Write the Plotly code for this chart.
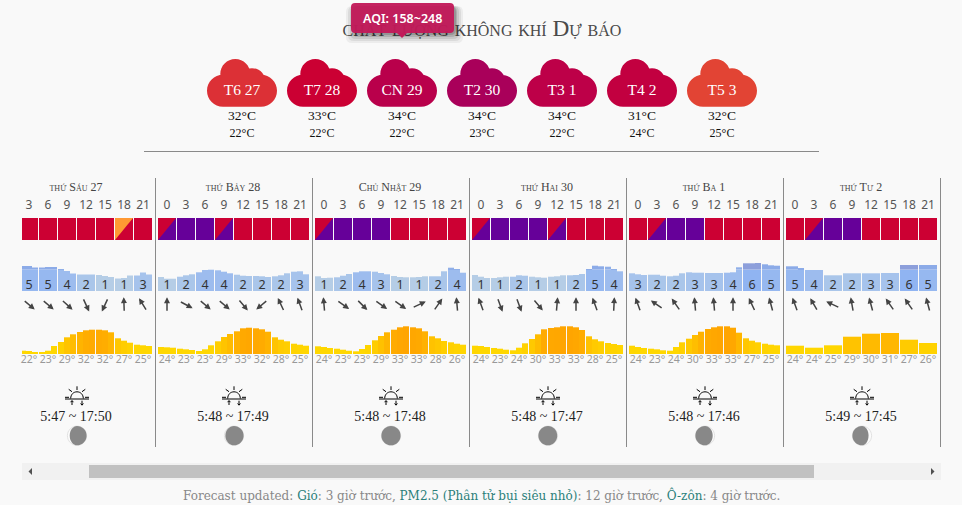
import math
import re
import plotly.graph_objects as go

# ---------- data ----------
cloud_labels = ["T6 27", "T7 28", "CN 29", "T2 30", "T3 1", "T4 2", "T5 3"]
cloud_colors = ["#dc3036", "#cb0033", "#b9004b", "#a9005a", "#bd0048", "#c20040", "#e24434"]
temp_max = ["32°C", "33°C", "34°C", "34°C", "34°C", "31°C", "32°C"]
temp_min = ["22°C", "22°C", "22°C", "23°C", "22°C", "24°C", "25°C"]

day_titles = ["thứ Sáu 27", "thứ Bảy 28", "Chủ Nhật 29", "thứ Hai 30", "thứ Ba 1", "thứ Tư 2"]
day_hours = [[3, 6, 9, 12, 15, 18, 21]] + [[0, 3, 6, 9, 12, 15, 18, 21]] * 5

aqi_top = ["RRRRROR", "RPPRRRRR", "RPPPRRRR", "RPPPRRRR", "RRPPRRRR", "RRPPRRRR"]
aqi_bottom = ["RRRRRRR", "PPPPRRRR", "PPPPRRRR", "PPPPPRRR", "RPPPRRRR", "RPPPRRRR"]
aqi_colors = {"R": "#cc0033", "P": "#660099", "O": "#ff9933"}

wind_levels = [
    [5, 5, 4, 2, 1, 1, 3],
    [1, 2, 4, 4, 2, 2, 2, 3],
    [1, 2, 4, 3, 1, 1, 2, 4],
    [1, 1, 2, 1, 1, 2, 5, 4],
    [3, 2, 2, 3, 3, 4, 6, 5],
    [5, 4, 2, 2, 3, 3, 6, 5],
]
wind_bars = [
    [[25, 25, 23.5], [23.5, 24, 24], [22, 20, 17.5], [16.5, 16.5, 16.5], [16, 15, 14], [12.5, 13, 15.5], [15.5, 18.5, 16.5]],
    [[14, 12.3, 12.3], [14.3, 15.7, 16.7], [18.7, 21, 21.3], [20.7, 19.3, 17.7], [16.3, 15.3, 15], [15, 14.7, 14], [14.7, 15.7, 17.7], [19.3, 19.7, 16.7]],
    [[14.7, 13, 13.3], [13.7, 15.3, 17], [18.7, 19.7, 19.7], [19.3, 18, 16.7], [15, 14, 13.7], [13.7, 14, 14.7], [14.7, 14.7, 19.7], [23.3, 22, 18.3]],
    [[16, 14.3, 13], [13, 13.7, 14.3], [14.3, 15.7, 15.3], [14.3, 13.7, 13.3], [14.3, 14.7, 15.7], [15.7, 16, 17], [21.7, 25.3, 24.7], [24.3, 21.7, 19.7]],
    [[17.7, 16.7, 16], [16.3, 16.3, 15.3], [14.7, 15.3, 17.7], [18.7, 18.3, 18.3], [18, 18, 18], [18.3, 18.7, 23.7], [27.7, 27.7, 28], [26.7, 25.7, 25.3]],
    [[24.7, 24.7, 23], [21], [15.7], [17.7], [17.7], [18], [26], [26]],
]
wind_dirs = [
    [130, 130, 132, 155, 205, 358, 328],
    [0, 118, 130, 130, 140, 230, 335, 340],
    [355, 125, 135, 125, 125, 65, 35, 355],
    [340, 160, 160, 140, 5, 0, 340, 3],
    [340, 305, 325, 355, 355, 0, 335, 345],
    [340, 330, 295, 350, 345, 325, 325, 345],
]
temps = [
    [22, 23, 29, 32, 32, 27, 25],
    [24, 23, 23, 29, 33, 32, 28, 25],
    [24, 23, 23, 29, 33, 33, 28, 26],
    [24, 23, 24, 30, 33, 33, 28, 25],
    [24, 23, 24, 30, 33, 33, 27, 25],
    [24, 24, 25, 29, 30, 31, 27, 26],
]
temp_bars = [
    [[3.3, 3, 2], [1.3, 3.3, 8], [12, 16.7, 19.7], [22, 23.7, 24.3], [24.3, 23.7, 21.7], [15.7, 13.3, 11.3], [9.3, 8.7, 8]],
    [[7, 6.7, 6.3], [5.3, 4.7, 4], [3, 4.7, 8.7], [12.7, 17, 20], [22.7, 25.7, 26.3], [25.7, 24.7, 22.3], [16.7, 14.3, 12.7], [10.3, 9.3, 8.3]],
    [[7.7, 7, 6], [5.3, 4.3, 3.3], [2.7, 5, 9], [13.7, 18, 21.7], [24.3, 26.7, 27.7], [26.7, 25.7, 22.7], [17.7, 15.7, 13], [11.7, 10.3, 9.3]],
    [[8.3, 8, 7], [6, 5.3, 4.3], [3.7, 6.3, 10.7], [15, 19.7, 24.7], [26, 26.7, 27.7], [27.7, 26.7, 24], [17.7, 14.7, 12.7], [11, 10, 9]],
    [[8.3, 7, 6], [5.3, 4.7, 3.7], [3.3, 7, 11.7], [15.3, 19, 22.3], [25, 26.7, 27.7], [27.7, 26.3, 21.3], [15.7, 13.3, 11.7], [10.3, 9.3, 8.7]],
    [[8.3], [6.3], [8.7], [17.3], [20.3], [21], [14.3], [11]],
]
sun_times = ["5:47 ~ 17:50", "5:48 ~ 17:49", "5:48 ~ 17:48", "5:48 ~ 17:47", "5:48 ~ 17:46", "5:49 ~ 17:45"]
moon_lit = [-0.12, -0.05, 0.0, 0.02, 0.1, 0.16]

title_text = "chất lượng không khí Dự báo"
tooltip_text = "AQI: 158~248"
footer_parts = [("Forecast updated: ", 0), ("Gió", 1), (": 3 giờ trước, ", 0), ("PM2.5 (Phân tử bụi siêu nhỏ)", 1),
                (": 12 giờ trước, ", 0), ("Ô-zôn", 1), (": 4 giờ trước.", 0)]

# ---------- layout constants ----------
W, H = 962, 505
BG = "#f9f9f9"
SERIF = "Liberation Serif"
SANS = "Noto Sans"
DAY_START = [1, 158, 315, 472, 629, 786]
CLIP_LEFT = 22
PX_PER_H = 19 / 3
KAPPA = 0.5523

wind_colors = {1: "#b5cde6", 2: "#aac6ea", 3: "#a6c3ec", 4: "#9dbcee", 5: "#96b8f0", 6: "#90b4f2"}
wind_tops = {4: "#90afe8", 5: "#8cabe8", 6: "#8d9fdb"}
WIND_BREAK = 21.5
TEMP_STOPS = [(8, 215), (14, 204), (20, 187), (24, 172), (28, 164)]


def temp_color(v):
    # yellow to orange with bar height
    if v <= TEMP_STOPS[0][0]:
        g = TEMP_STOPS[0][1]
    else:
        g = TEMP_STOPS[-1][1]
        for (a, ga), (b, gb) in zip(TEMP_STOPS, TEMP_STOPS[1:]):
            if a <= v <= b:
                g = ga + (gb - ga) * (v - a) / (b - a)
                break
    return f"rgb(255,{round(g)},0)"


fig = go.Figure()
layout = dict(
    width=W, height=H, margin=dict(l=0, r=0, t=0, b=0, pad=0), paper_bgcolor=BG, plot_bgcolor="rgba(0,0,0,0)",
    showlegend=False, barmode="overlay", hovermode=False, autosize=False,
)
hidden = dict(visible=False, fixedrange=True, showgrid=False, zeroline=False)


def ydom(top, bottom):
    return [1 - bottom / H, 1 - top / H]


layout["xaxis"] = dict(hidden, domain=[0, 1], range=[0, W], anchor="y")
layout["yaxis"] = dict(hidden, domain=[0, 1], range=[H, 0], anchor="x")
layout["yaxis2"] = dict(hidden, domain=ydom(218, 240), range=[0, 1], anchor="x")
layout["yaxis3"] = dict(hidden, domain=ydom(263, 291), range=[0, 28], anchor="x")
layout["yaxis4"] = dict(hidden, domain=ydom(325, 354), range=[0, 29], anchor="x")
for d, s in enumerate(DAY_START):
    left = max(s, CLIP_LEFT)
    layout[f"xaxis{d + 2}"] = dict(hidden, domain=[left / W, (s + 152) / W], range=[(left - s) / PX_PER_H, 24], anchor="y")
layout["xaxis8"] = dict(hidden, domain=[202 / W, 762 / W], range=[-0.5, 6.5], anchor="y")


def text_trace(x, y, text, color, size, family, xa="x", ya="y", variant="normal", weight="normal"):
    fig.add_trace(go.Scatter(x=x, y=y, text=text, mode="text", textposition="middle center", xaxis=xa, yaxis=ya,
                             cliponaxis=False, hoverinfo="skip",
                             textfont=dict(color=color, size=size, family=family, variant=variant, weight=weight)))


def circle(cx, cy, r):
    k = KAPPA * r
    return (f"M{cx - r},{cy} C{cx - r},{cy - k} {cx - k},{cy - r} {cx},{cy - r} "
            f"C{cx + k},{cy - r} {cx + r},{cy - k} {cx + r},{cy} "
            f"C{cx + r},{cy + k} {cx + k},{cy + r} {cx},{cy + r} "
            f"C{cx - k},{cy + r} {cx - r},{cy + k} {cx - r},{cy} Z")


def rrect(x0, y0, x1, y1, r):
    return (f"M{x0 + r},{y0} L{x1 - r},{y0} Q{x1},{y0} {x1},{y0 + r} L{x1},{y1 - r} Q{x1},{y1} {x1 - r},{y1} "
            f"L{x0 + r},{y1} Q{x0},{y1} {x0},{y1 - r} L{x0},{y0 + r} Q{x0},{y0} {x0 + r},{y0} Z")


def flip_y(path):
    # pixel-sized shapes count y upward; the paths here are written with y downward
    return re.sub(r"(-?[\d.]+),(-?[\d.]+)", lambda m: f"{m.group(1)},{-float(m.group(2))}", path)


shapes = []
annotations = []


def pixel_shape(xref, xanchor, yanchor, path, **kw):
    shapes.append(dict(type="path", xref=xref, yref="y", xsizemode="pixel", ysizemode="pixel",
                       xanchor=xanchor, yanchor=yanchor, path=flip_y(path), **kw))


# ---------- title ----------
text_trace([482], [30], [title_text], "#4a4a4a", 23.3, SERIF, variant="small-caps")

# ---------- clouds ----------
cloud_path = " ".join([
    circle(-19, 0, 16), circle(19, 0, 16), circle(-6.7, -16.7, 15), circle(10, -9, 13.5),
    "M-19,-16 L19,-16 L19,16 L-19,16 Z",
])
idx = list(range(len(cloud_labels)))
for i, c in zip(idx, cloud_colors):
    pixel_shape("x8", i, 90.7, cloud_path, fillcolor=c, line=dict(width=0), fillrule="nonzero", layer="below")
text_trace(idx, [91] * 7, cloud_labels, "#ffffff", 15.5, SERIF, xa="x8")
text_trace(idx, [117] * 7, temp_max, "#111111", 13.5, SERIF, xa="x8")
text_trace(idx, [134] * 7, temp_min, "#111111", 12, SERIF, xa="x8")

# separators
shapes.append(dict(type="line", xref="x", yref="y", x0=144, x1=819, y0=151.5, y1=151.5, line=dict(color="#8a8a8a", width=1)))
for s in DAY_START:
    shapes.append(dict(type="line", xref="x", yref="y", x0=s + 154.5, x1=s + 154.5, y0=178, y1=447, line=dict(color="#8a8a8a", width=1)))

sun_path = (
    "M-12,0 L12,0 M-12,-1.7 L-8,-1.7 M8,-1.7 L12,-1.7 "
    "M-6.3,-0.5 C-6.3,-4.5 -3.5,-7.2 0,-7.2 C3.5,-7.2 6.3,-4.5 6.3,-0.5 "
    "M0,-12.7 L0,-9 M-8.3,-9.7 L-5,-7.3 M8.3,-9.7 L5,-7.3 "
    "M-5,6 L-5,2 M-6.4,3.2 L-5,1.5 L-3.6,3.2 "
    "M5,1.7 L5,5.7 M3.6,4.5 L5,6.2 L6.4,4.5"
)

# ---------- the six day panels ----------
for d, hours in enumerate(day_hours):
    xa = f"x{d + 2}"
    centers = [h + 9 / PX_PER_H for h in hours]
    n = len(hours)
    text_trace([11.85], [187.5], [day_titles[d]], "#444444", 12, SERIF, xa=xa, variant="small-caps")
    text_trace(centers, [205.5] * n, [str(h) for h in hours], "#555555", 12, SANS, xa=xa)

    # AQI cells
    fig.add_trace(go.Bar(x=centers, y=[1] * n, width=[18 / PX_PER_H] * n, xaxis=xa, yaxis="y2", hoverinfo="skip",
                         marker=dict(color=[aqi_colors[c] for c in aqi_bottom[d]], line=dict(width=0))))
    for h, top, bottom in zip(hours, aqi_top[d], aqi_bottom[d]):
        if top != bottom:
            x1 = h + 18 / PX_PER_H
            fig.add_trace(go.Scatter(x=[h, x1, h, h], y=[0, 1, 1, 0], mode="lines", fill="toself", xaxis=xa, yaxis="y2",
                                     fillcolor=aqi_colors[top], line=dict(width=0), hoverinfo="skip"))

    # wind and temperature bars
    wx, wy, wc, ww, tx, ty, tw, tc, xtop, ytop, btop, ctop, wtop = [], [], [], [], [], [], [], [], [], [], [], [], []
    for h, lev, group, tgroup in zip(hours, wind_levels[d], wind_bars[d], temp_bars[d]):
        sub = 18 / len(group)
        for j, v in enumerate(group):
            cx = h + sub * (j + 0.5) / PX_PER_H
            wx.append(cx); ww.append(sub / PX_PER_H)
            wy.append(min(v, WIND_BREAK)); wc.append(wind_colors[lev])
            if v > WIND_BREAK:
                xtop.append(cx); wtop.append(sub / PX_PER_H); ytop.append(v - WIND_BREAK); btop.append(WIND_BREAK)
                ctop.append(wind_tops[max(lev, 4)])
        sub = 18 / len(tgroup)
        for j, v in enumerate(tgroup):
            tx.append(h + sub * (j + 0.5) / PX_PER_H); tw.append(sub / PX_PER_H); ty.append(v); tc.append(temp_color(v))
    fig.add_trace(go.Bar(x=wx, y=wy, width=ww, xaxis=xa, yaxis="y3", hoverinfo="skip", marker=dict(color=wc, line=dict(width=0))))
    if xtop:
        fig.add_trace(go.Bar(x=xtop, y=ytop, base=btop, width=wtop, xaxis=xa, yaxis="y3", hoverinfo="skip",
                             marker=dict(color=ctop, line=dict(width=0))))
    fig.add_trace(go.Bar(x=tx, y=ty, width=tw, xaxis=xa, yaxis="y4", hoverinfo="skip", marker=dict(color=tc, line=dict(width=0))))

    text_trace(centers, [5.5] * n, [str(v) for v in wind_levels[d]], "#333333", 12.5, SANS, xa=xa, ya="y3")
    text_trace(centers, [360.5] * n, [f"{t}°" for t in temps[d]], "#999999", 10.5, SANS, xa=xa)

    # wind arrows
    for cx, ang in zip(centers, wind_dirs[d]):
        dx, dy = math.sin(math.radians(ang)), math.cos(math.radians(ang))
        L = 15
        annotations.append(dict(x=cx, y=304.7, xref=xa, yref="y", text="", showarrow=True, arrowhead=2, arrowsize=0.8,
                                arrowwidth=1.5, arrowcolor="#444444", xshift=L / 2 * dx, yshift=L / 2 * dy,
                                ax=-L * dx, ay=L * dy, axref="pixel", ayref="pixel"))

    # sun, moon
    pixel_shape(xa, 12, 399, sun_path, line=dict(color="#000000", width=1), fillcolor="rgba(0,0,0,0)")
    text_trace([11.85], [417], [sun_times[d]], "#222222", 14, SERIF, xa=xa)
    r = 9.6
    pixel_shape(xa, 12, 435.7, circle(0, 0, r), line=dict(color="#e2e2e2", width=1), fillcolor="#fbfbfb")
    f = moon_lit[d]
    sgn = 1 if f >= 0 else -1
    rx = r * (1 - 2 * abs(f)) * sgn
    k = KAPPA * r
    moon = (f"M0,{-r} C{-sgn * k},{-r} {-sgn * r},{-k} {-sgn * r},0 C{-sgn * r},{k} {-sgn * k},{r} 0,{r} "
            f"C{KAPPA * rx},{r} {rx},{k} {rx},0 C{rx},{-k} {KAPPA * rx},{-r} 0,{-r} Z")
    pixel_shape(xa, 12, 435.7, moon, line=dict(width=0), fillcolor="#888888")

# ---------- scrollbar ----------
shapes += [
    dict(type="rect", xref="x", yref="y", x0=22, x1=941, y0=463, y1=480, fillcolor="#f1f1f1", line=dict(width=0), layer="below"),
    dict(type="rect", xref="x", yref="y", x0=89, x1=814, y0=465, y1=478, fillcolor="#c1c1c1", line=dict(width=0), layer="below"),
    dict(type="path", xref="x", yref="y", path="M28.5,471.5 L32,468 L32,475 Z", fillcolor="#505050", line=dict(width=0), layer="below"),
    dict(type="path", xref="x", yref="y", path="M934.5,471.5 L931,468 L931,475 Z", fillcolor="#505050", line=dict(width=0), layer="below"),
]

# ---------- tooltip ----------
for gx, gy, op in [(7, 9, 0.05), (5, 7, 0.07), (3, 5, 0.09), (1, 3, 0.12), (0, 1, 0.14)]:
    shapes.append(dict(type="path", xref="x", yref="y", path=rrect(351 - gx + 2, 6, 454 + gx + 2, 33 + gy + 1, 6),
                       fillcolor="#000000", opacity=op, line=dict(width=0), layer="above"))
shapes.append(dict(type="path", xref="x", yref="y", path=rrect(351, 3, 454, 33, 4), fillcolor="#c21a5a", opacity=0.96,
                   line=dict(width=0), layer="above"))
shapes.append(dict(type="path", xref="x", yref="y", path="M397,33 L402,38 L407,33 Z", fillcolor="#c21a5a", line=dict(width=0), layer="above"))
annotations.append(dict(x=402, y=18, xref="x", yref="y", text=tooltip_text, showarrow=False,
                        font=dict(color="#ffffff", size=12.5, family="Noto Sans", weight=600)))

# ---------- footer ----------
footer = "".join(f'<span style="color:{"#2a7f7a" if link else "#888888"}">{t}</span>' for t, link in footer_parts)
annotations.append(dict(x=481.5, y=495, xref="x", yref="y", text=footer, showarrow=False,
                        font=dict(color="#888888", size=12, family="DejaVu Serif")))

layout["shapes"] = shapes
layout["annotations"] = annotations
fig.update_layout(**layout)
fig.write_html("out.html", config=dict(displayModeBar=False),
               post_script="document.body.style.margin='0';document.body.style.overflow='hidden';document.body.style.background='#f9f9f9';")
